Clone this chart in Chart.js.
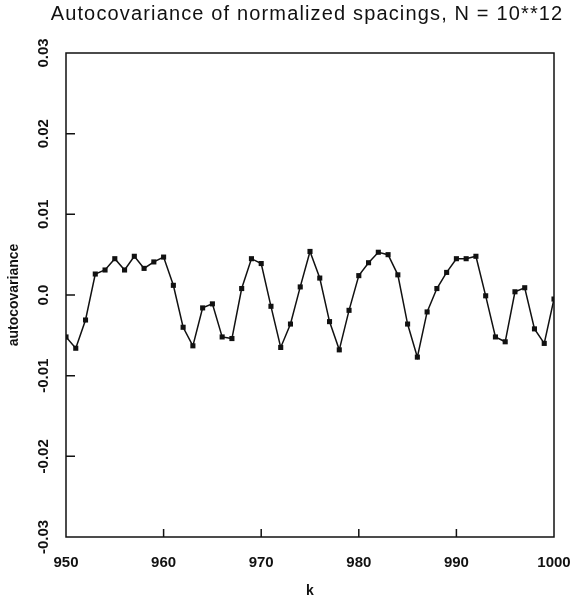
<!DOCTYPE html>
<html>
<head>
<meta charset="utf-8">
<script src="https://cdn.jsdelivr.net/npm/chart.js@4/dist/chart.umd.min.js"></script>
<style>
  html, body { margin: 0; padding: 0; background: #fff; }
  #wrap { width: 573px; height: 602px; }
</style>
</head>
<body>
<div id="wrap"><canvas id="c" width="573" height="602"></canvas></div>
<script>
const kValues = [950,951,952,953,954,955,956,957,958,959,
                 960,961,962,963,964,965,966,967,968,969,
                 970,971,972,973,974,975,976,977,978,979,
                 980,981,982,983,984,985,986,987,988,989,
                 990,991,992,993,994,995,996,997,998,999,1000];
const autocov = [-0.0052,-0.0066,-0.0031,0.0026,0.0031,0.0045,0.0031,0.0048,0.0033,0.0041,
                 0.0047,0.0012,-0.0040,-0.0063,-0.0016,-0.0011,-0.0052,-0.0054,0.0008,0.0045,
                 0.0039,-0.0014,-0.0065,-0.0036,0.0010,0.0054,0.0021,-0.0033,-0.0068,-0.0019,
                 0.0024,0.0040,0.0053,0.0050,0.0025,-0.0036,-0.0077,-0.0021,0.0008,0.0028,
                 0.0045,0.0045,0.0048,-0.0001,-0.0052,-0.0058,0.0004,0.0009,-0.0042,-0.0060,-0.0005];
const xTickValues = [950,960,970,980,990,1000];
const xTickLabels = ["950","960","970","980","990","1000"];
const yTickValues = [-0.03,-0.02,-0.01,0,0.01,0.02,0.03];
const yTickLabels = ["-0.03","-0.02","-0.01","0.0","0.01","0.02","0.03"];
const titleText = "Autocovariance of normalized spacings, N = 10**12";
const xTitle = "k";
const yTitle = "autocovariance";

const INK = '#111';
const FONT = "'Liberation Sans', Arial, Helvetica, sans-serif";

const boxAndTicks = {
  id: 'boxAndTicks',
  afterDatasetsDraw(chart) {
    const ctx = chart.ctx, a = chart.chartArea;
    const xs = chart.scales.x, ys = chart.scales.y;
    ctx.save();
    ctx.strokeStyle = INK;
    ctx.lineWidth = 1.5;
    ctx.strokeRect(a.left, a.top, a.right - a.left, a.bottom - a.top);
    ctx.beginPath();
    xTickValues.forEach(v => {
      const px = xs.getPixelForValue(v);
      if (px > a.left + 1 && px < a.right - 1) { ctx.moveTo(px, a.bottom); ctx.lineTo(px, a.bottom - 8); }
    });
    yTickValues.forEach(v => {
      const py = ys.getPixelForValue(v);
      if (py > a.top + 1 && py < a.bottom - 1) { ctx.moveTo(a.left, py); ctx.lineTo(a.left + 9, py); }
    });
    ctx.stroke();
    ctx.restore();
  },
  afterDraw(chart) {
    const ctx = chart.ctx;
    ctx.save();
    ctx.fillStyle = INK;
    ctx.font = "20px " + FONT;
    try { ctx.letterSpacing = '1.15px'; } catch (e) {}
    ctx.textAlign = 'center';
    ctx.textBaseline = 'alphabetic';
    ctx.fillText(titleText, 307, 20);
    ctx.restore();
  }
};

new Chart(document.getElementById('c'), {
  type: 'line',
  data: {
    datasets: [{
      data: kValues.map((k, i) => ({x: k, y: autocov[i]})),
      borderColor: INK,
      backgroundColor: INK,
      borderWidth: 1.5,
      pointStyle: 'rect',
      pointRadius: 3.6,
      pointBorderWidth: 0,
      tension: 0,
      fill: false
    }]
  },
  options: {
    responsive: false,
    animation: false,
    devicePixelRatio: 1,
    layout: { padding: { left: 0, right: 19, top: 53, bottom: 0 } },
    plugins: {
      legend: { display: false },
      tooltip: { enabled: false },
      title: { display: false }
    },
    scales: {
      x: {
        type: 'linear',
        min: 950, max: 1000,
        afterBuildTicks(scale) { scale.ticks = xTickValues.map(v => ({value: v})); },
        afterFit(scale) { scale.height = 65; },
        grid: { display: false, drawTicks: true, tickLength: 17 },
        border: { display: false },
        ticks: {
          color: INK,
          padding: 0,
          maxRotation: 0,
          font: { family: FONT, size: 15, weight: 'bold' },
          callback: (v) => xTickLabels[xTickValues.indexOf(v)]
        },
        title: {
          display: true, text: xTitle, color: INK,
          font: { family: FONT, size: 14, weight: 'bold', lineHeight: 1.2 },
          padding: { top: 0, bottom: 2 }
        }
      },
      y: {
        type: 'linear',
        min: -0.03, max: 0.03,
        afterBuildTicks(scale) { scale.ticks = yTickValues.map(v => ({value: v})); },
        afterFit(scale) { scale.width = 66; },
        grid: { display: false, drawTicks: false },
        border: { display: false },
        ticks: {
          color: INK,
          padding: 5,
          minRotation: 90, maxRotation: 90,
          crossAlign: 'center',
          font: { family: FONT, size: 15, weight: 'bold' },
          callback: (v) => {
            const i = yTickValues.findIndex(t => Math.abs(t - v) < 1e-9);
            return i >= 0 ? yTickLabels[i] : '';
          }
        },
        title: {
          display: true, text: yTitle, color: INK,
          font: { family: FONT, size: 14, weight: 'bold', lineHeight: 1.2 },
          padding: { top: 6, bottom: 0 }
        }
      }
    }
  },
  plugins: [boxAndTicks]
});
</script>
</body>
</html>
